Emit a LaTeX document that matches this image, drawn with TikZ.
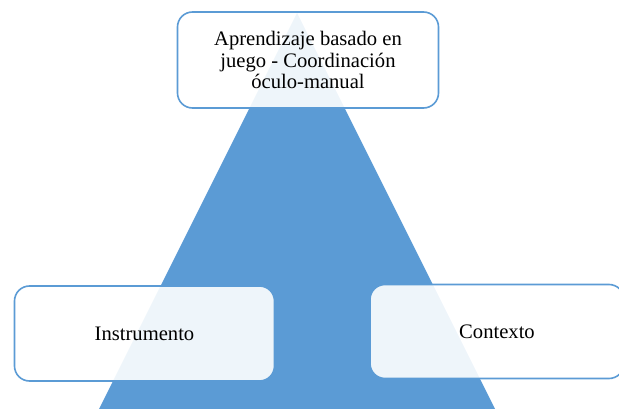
\documentclass[tikz,border=0pt]{standalone}
\usepackage{fontspec}
\setmainfont{Liberation Serif}
\definecolor{triblue}{HTML}{5B9BD5}
\tikzset{
  box/.style={draw=triblue, line width=1.6pt, fill=white, fill opacity=0.9, text opacity=1,
    rounded corners=15pt, align=center, font=\fontsize{20.6}{21.5}\selectfont, inner sep=0pt},
}
\begin{document}
\begin{tikzpicture}[x=1pt,y=-1pt]
\useasboundingbox (0,0) rectangle (619,409);
\clip (0,0) rectangle (619,409);
\coordinate (apex) at (297,13);
\coordinate (bl) at (99,409);
\coordinate (br) at (495,409);
\fill[triblue] (apex) -- (bl) -- (br) -- cycle;
\node[box, minimum width=261pt, minimum height=96pt] (top) at (308,60)
  {Aprendizaje basado en\\juego - Coordinaci\'on\\\'oculo-manual};
\node[box, minimum width=260pt, minimum height=95pt] (left) at (144.5,333.5) {Instrumento};
\node[box, minimum width=254pt, minimum height=94pt] (right) at (497,331.5) {Contexto};
\end{tikzpicture}
\end{document}
